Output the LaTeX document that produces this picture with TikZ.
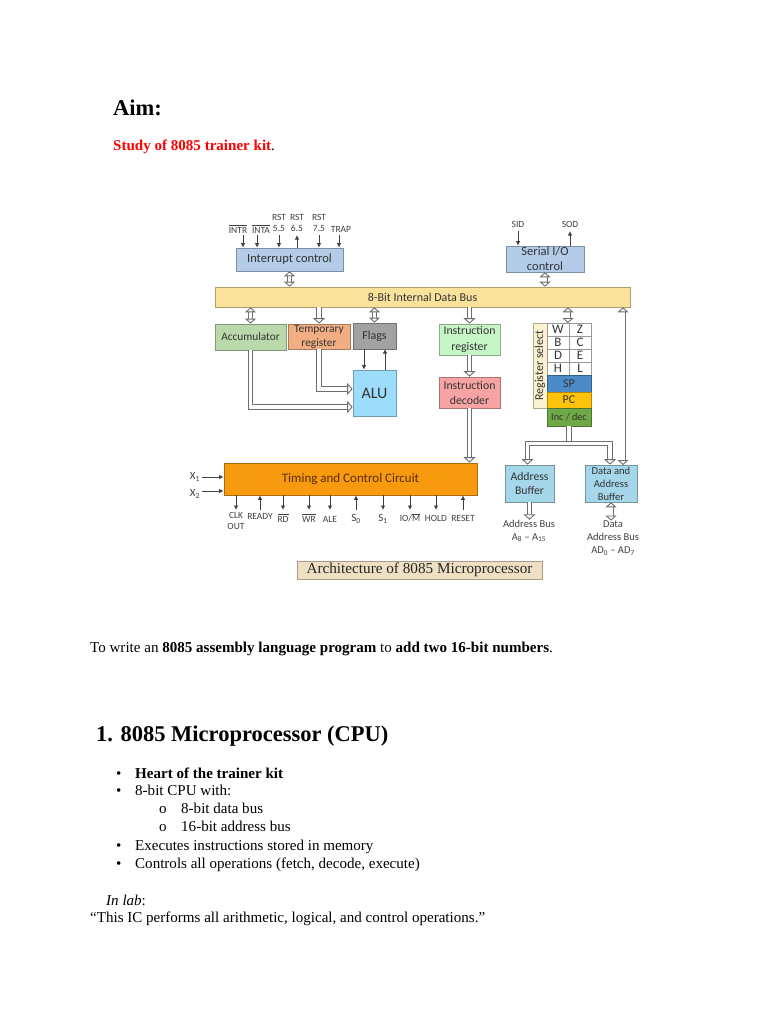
\documentclass[tikz,border=0pt]{standalone}
\usepackage{fontspec}
\setmainfont{Liberation Serif}
\newfontfamily\diag{Carlito}
\usetikzlibrary{arrows.meta,calc}
\definecolor{lnk}{HTML}{6E6E6E}
\definecolor{brownt}{HTML}{5A2C08}
\tikzset{
  txt/.style={anchor=base west,inner sep=0pt,font=\fontsize{15.05}{17}\selectfont,text=black},
  head/.style={anchor=base west,inner sep=0pt,font=\fontsize{22.5}{26}\selectfont\bfseries,text=black},
  lab/.style={inner sep=0pt,font=\diag\fontsize{9.5}{11.5}\selectfont,text=black!75,align=center},
  outlab/.style={inner sep=0pt,font=\diag\fontsize{10.5}{13}\selectfont,text=black!75,align=center},
  sublab/.style={inner sep=0pt,font=\diag\fontsize{11}{13}\selectfont,text=black!75,align=center},
  thin arrow/.style={draw=black!75,line width=.9pt,-{Latex[length=4.5pt,width=4.5pt]}},
  hollow2/.style={draw=lnk,double=white,line width=.9pt,double distance=3.2pt,{Triangle[open,fill=white,length=5pt,width=11pt]}-{Triangle[open,fill=white,length=5pt,width=11pt]}},
  hollow1/.style={draw=lnk,double=white,line width=.9pt,double distance=3.6pt,-{Triangle[open,fill=white,length=5.5pt,width=12pt]}},
  plainw/.style={draw=lnk,double=white,line width=.9pt,double distance=3.6pt},
}
\newcommand{\bx}[9]{%
  \pgfmathsetmacro{\bxw}{#4-#2}\pgfmathsetmacro{\bxh}{#5-#3}%
  \pgfmathsetmacro{\bxx}{(#4+#2)/2}\pgfmathsetmacro{\bxy}{(#5+#3)/2}%
  \node[draw=#6!70!black,line width=.7pt,fill=#6,minimum width=\bxw pt,minimum height=\bxh pt,inner sep=0pt,align=center,text=black!80,font=\diag\fontsize{#7}{#8}\selectfont] (#1) at (\bxx,\bxy) {#9};}
\newcommand{\ol}[1]{$\overline{\mbox{#1}}$}
\begin{document}
\begin{tikzpicture}[x=1pt,y=-1pt]
\useasboundingbox (0,0) rectangle (768,1024);
\fill[white] (0,0) rectangle (768,1024);
% page text
\node[head] (aim) at (113,116) {Aim:};
\node[txt,font=\fontsize{15.05}{17}\selectfont\bfseries,text=red] (study) at (113,151) {Study of 8085 trainer kit\textcolor{black}{\mdseries.}};
\node[txt] (write) at (90,652) {To write an \textbf{8085 assembly language program} to \textbf{add two 16-bit numbers}.};
\node[head] (h1) at (96,741) {1. 8085 Microprocessor (CPU)};
\node[txt] (b1m) at (116,778) {•};
\node[txt] (b1) at (135,778) {\textbf{Heart of the trainer kit}};
\node[txt] (b2m) at (116,795) {•};
\node[txt] (b2) at (135,795) {8-bit CPU with:};
\node[txt] (b3m) at (159,813) {o};
\node[txt] (b3) at (181,813) {8-bit data bus};
\node[txt] (b4m) at (159,831) {o};
\node[txt] (b4) at (181,831) {16-bit address bus};
\node[txt] (b5m) at (116,850) {•};
\node[txt] (b5) at (135,850) {Executes instructions stored in memory};
\node[txt] (b6m) at (116,868) {•};
\node[txt] (b6) at (135,868) {Controls all operations (fetch, decode, execute)};
\node[txt] (lab) at (106,905) {\textit{In lab}:};
\node[txt] (quote) at (90,922) {“This IC performs all arithmetic, logical, and control operations.”};
% blocks
\definecolor{cint}{HTML}{B3CDE8}
\definecolor{cbus}{HTML}{FBE29B}
\definecolor{cacc}{HTML}{BAD9AB}
\definecolor{ctmp}{HTML}{F2AE83}
\definecolor{cflg}{HTML}{A3A1A1}
\definecolor{calu}{HTML}{9EDCFB}
\definecolor{cir}{HTML}{C6F5C6}
\definecolor{cdec}{HTML}{F8A3A3}
\definecolor{cbuf}{HTML}{A5D6E9}
\definecolor{ctim}{HTML}{F79A0E}
\definecolor{csp}{HTML}{4A8BC8}
\definecolor{cpc}{HTML}{FDC30B}
\definecolor{cinc}{HTML}{6FA847}
\definecolor{csel}{HTML}{FBF2CF}
\definecolor{ccap}{HTML}{EFE0C4}
\bx{intc}{236}{248}{343}{271}{cint}{12.5}{15}{Interrupt control}
\bx{ser}{506}{246}{584}{272}{cint}{12.5}{15}{Serial I/O\\control}
\bx{bus}{215}{287}{630}{307}{cbus}{12}{14}{8-Bit Internal Data Bus}
\bx{acc}{215}{324}{286}{350}{cacc}{11.3}{14}{Accumulator}
\bx{tmp}{288}{324}{350}{349}{ctmp}{11.4}{14}{Temporary\\register}
\bx{flg}{353}{323}{396}{349}{cflg}{12}{14}{Flags}
\bx{alu}{353}{370}{396}{416}{calu}{16}{18}{ALU}
\bx{ir}{439}{324}{500}{355}{cir}{11.8}{16}{Instruction\\register}
\bx{dec}{439}{377}{500}{408}{cdec}{11.8}{15}{Instruction\\decoder}
\bx{sel}{533}{323}{547}{408}{csel}{10}{12}{}
\node[rotate=90,inner sep=0pt,font=\diag\fontsize{12}{14}\selectfont,text=black!80] (seltxt) at (sel.center) {Register select};
\tikzset{cell/.style={draw=black!40,line width=.6pt,fill=white,minimum width=22pt,minimum height=13pt,inner sep=0pt,font=\diag\fontsize{13}{14}\selectfont,text=black!80}}
\node[cell] (w) at (558,329.5) {W};
\node[cell] (z) at (580,329.5) {Z};
\node[cell] (b) at (558,342.5) {B};
\node[cell] (c) at (580,342.5) {C};
\node[cell] (d) at (558,355.5) {D};
\node[cell] (e) at (580,355.5) {E};
\node[cell] (h) at (558,368.5) {H};
\node[cell] (l) at (580,368.5) {L};
\bx{sp}{547}{375}{591}{392}{csp}{12}{14}{SP}
\bx{pc}{547}{392}{591}{408}{cpc}{12}{14}{PC}
\bx{inc}{547}{408}{591}{426}{cinc}{10.2}{12}{Inc / dec}
\bx{tim}{224}{463}{477}{495}{ctim}{13}{15}{\textcolor{brownt}{Timing and Control Circuit}}
\bx{abuf}{505}{465}{554}{502}{cbuf}{11.7}{14}{Address\\Buffer}
\bx{dbuf}{585}{465}{637}{502}{cbuf}{10.6}{13}{Data and\\Address\\Buffer}
\node[draw=ccap!70!black,line width=.7pt,fill=ccap,minimum width=245pt,minimum height=18pt,inner sep=0pt,font=\fontsize{15.2}{17}\selectfont,text=black!85] (cap) at (419.5,570) {Architecture of 8085 Microprocessor};
% top labels
\node[lab] (intr) at (238,229) {\ol{INTR}};
\node[lab] (inta) at (261,229) {\ol{INTA}};
\node[lab] (r55) at (279,223) {RST\\5.5};
\node[lab] (r65) at (297,223) {RST\\6.5};
\node[lab] (r75) at (319,223) {RST\\7.5};
\node[lab] (trap) at (341,229) {TRAP};
\node[lab] (sid) at (518,224) {SID};
\node[lab] (sod) at (570,224) {SOD};
\coordinate (ai) at (243,235);
\coordinate (aa) at (257,235);
\coordinate (at) at (339,235);
\draw[thin arrow] (ai) -- (ai |- intc.north);
\draw[thin arrow] (aa) -- (aa |- intc.north);
\draw[thin arrow] (r55.south |- 0,235) -- (r55.south |- intc.north);
\draw[thin arrow] (r65.south |- intc.north) -- (r65.south |- 0,235);
\draw[thin arrow] (r75.south |- 0,235) -- (r75.south |- intc.north);
\draw[thin arrow] (at) -- (at |- intc.north);
\draw[thin arrow] (sid.south |- 0,231) -- (sid.south |- ser.north);
\draw[thin arrow] (sod.south |- ser.north) -- (sod.south |- 0,231);
% bus links
\draw[hollow2] (intc.south) -- (intc.south |- bus.north);
\draw[hollow2] (ser.south) -- (ser.south |- bus.north);
\draw[hollow2] (acc.north |- bus.south) -- (acc.north);
\draw[hollow1] (tmp.north |- bus.south) -- (tmp.north);
\draw[hollow2] (flg.north |- bus.south) -- (flg.north);
\draw[hollow1] (ir.north |- bus.south) -- (ir.north);
\draw[hollow1] (ir.south) -- (dec.north);
\draw[hollow1] (dec.south) -- (dec.south |- tim.north);
\coordinate (regtop) at (568,323);
\draw[hollow2] (regtop |- bus.south) -- (regtop);
% ALU
\coordinate (alua) at (alu.west |- 0,407);
\coordinate (alub) at (alu.west |- 0,389);
\draw[hollow1] (acc.south) |- (alua);
\draw[hollow1] (tmp.south) |- (alub);
\coordinate (fd) at (364,349);
\coordinate (fu) at (385,349);
\draw[thin arrow] (fd) -- (fd |- alu.north);
\draw[thin arrow] (fu |- alu.north) -- (fu);
% buffers
\coordinate (split) at (inc.south |- 0,443.5);
\draw[hollow1] (split) -| ([xshift=-2pt]abuf.north);
\draw[hollow1] (split) -| ([xshift=-1pt]dbuf.north);
\draw[plainw] (inc.south) -- (inc.south |- 0,441);
\coordinate (rbus) at (623,465);
\draw[hollow2] (rbus) -- (rbus |- bus.south);
% outputs
\node[outlab] (ab) at (529,531) {Address Bus\\A\textsubscript{8} – A\textsubscript{15}};
\node[outlab] (db) at (613,538) {Data\\Address Bus\\AD\textsubscript{0} – AD\textsubscript{7}};
\draw[hollow1] (abuf.south) -- (abuf.south |- ab.north);
\draw[hollow2] (dbuf.south) -- (dbuf.south |- db.north);
% clock
\node[sublab] (x1) at (195,477) {X\textsubscript{1}};
\node[sublab] (x2) at (195,494) {X\textsubscript{2}};
\draw[thin arrow] (x1.east) ++(2,0) -- (tim.west |- x1.east);
\draw[thin arrow] ($(x2.east)+(2,-3)$) -- (tim.west |- 0,491);
% bottom labels
\node[lab] (clk) at (236,521) {CLK\\OUT};
\node[lab] (rdy) at (260,516) {READY};
\node[lab] (rd) at (283,518) {\ol{RD}};
\node[lab] (wr) at (309,518) {\ol{WR}};
\node[lab] (ale) at (330,519) {ALE};
\node[sublab] (s0) at (356,519) {S\textsubscript{0}};
\node[sublab] (s1) at (383,519) {S\textsubscript{1}};
\node[lab] (iom) at (410,518) {IO/\ol{M}};
\node[lab] (hold) at (436,518) {HOLD};
\node[lab] (rst) at (463,518) {RESET};
\foreach \n in {clk,rd,wr,ale,s1,iom,hold}
  \draw[thin arrow] (\n.north |- tim.south) -- (\n.north |- 0,510);
\foreach \n in {rdy,s0,rst}
  \draw[thin arrow] (\n.north |- 0,510) -- (\n.north |- tim.south);
\end{tikzpicture}
\end{document}
